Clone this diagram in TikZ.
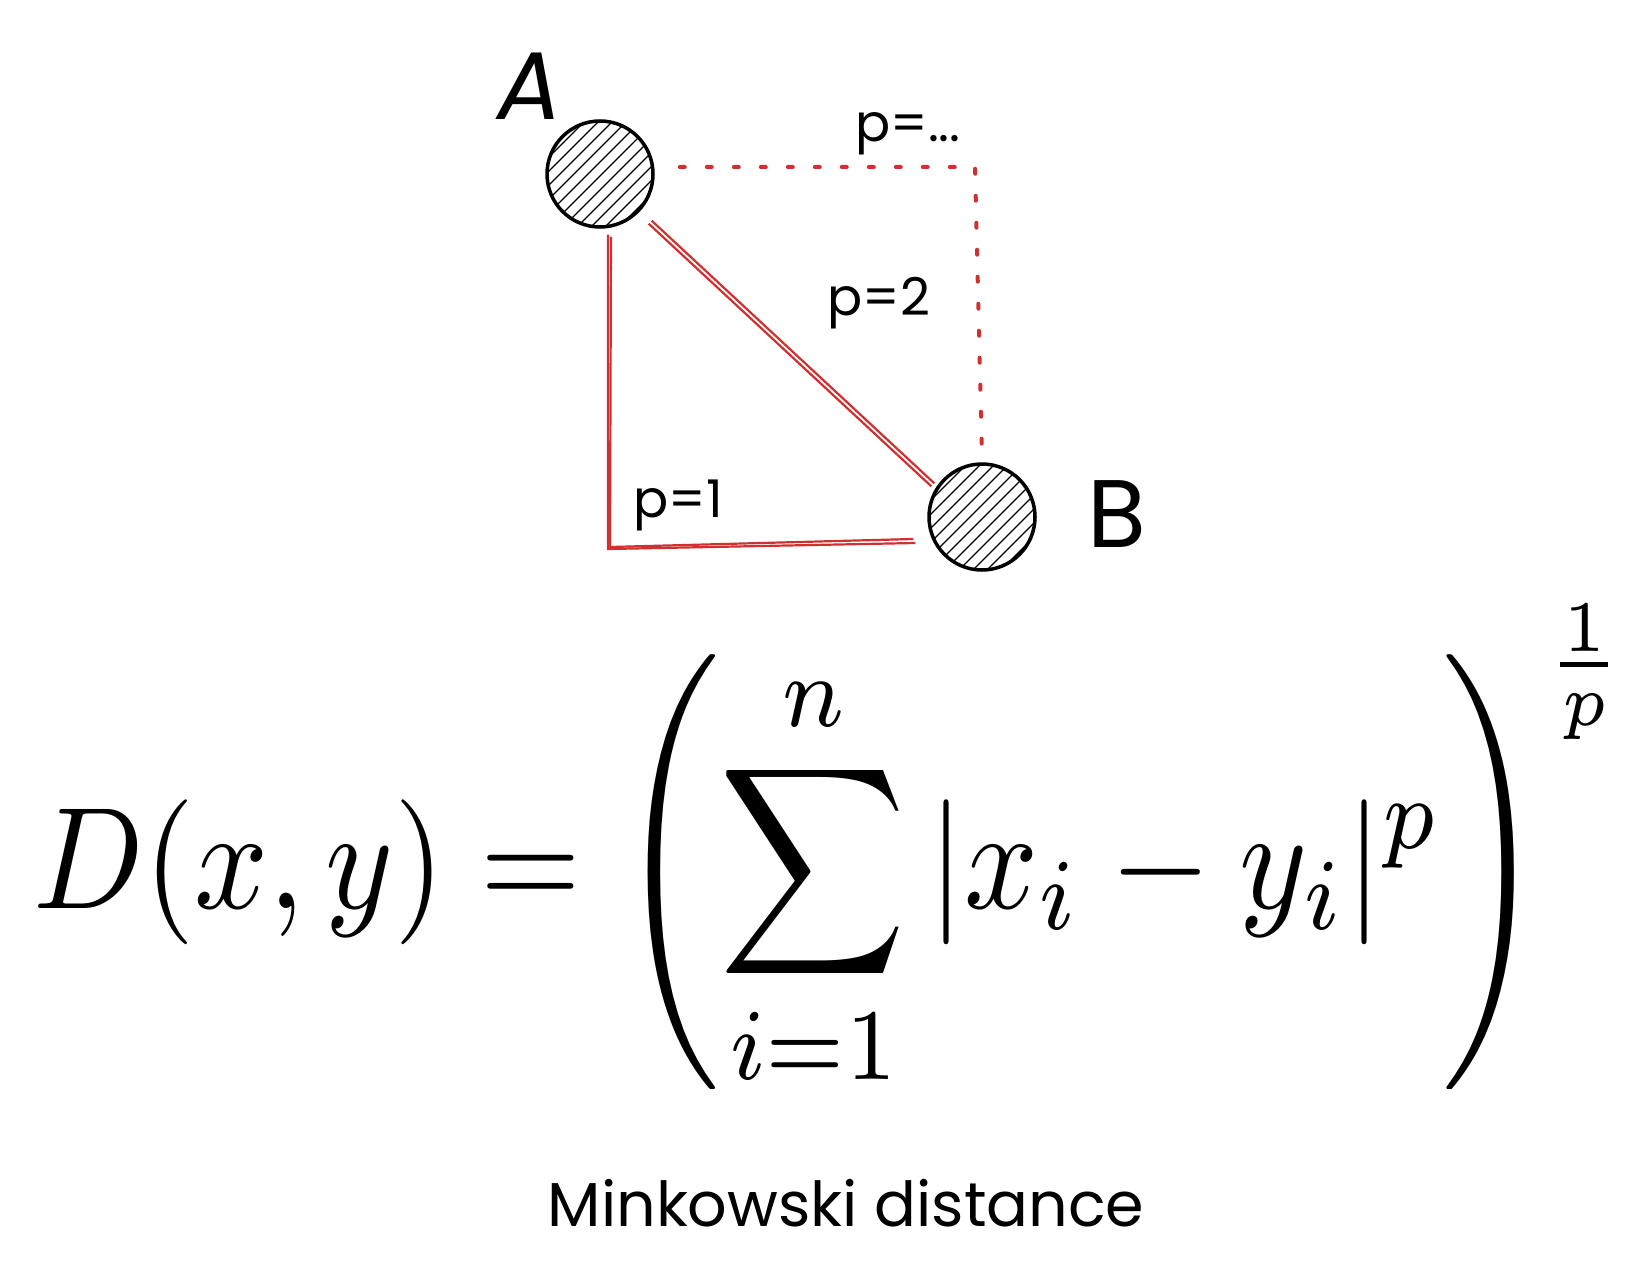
\documentclass[tikz,border=0pt]{standalone}
\usepackage{amsmath}
\usepackage{graphicx}
\usepackage{fontspec}
\newfontfamily\hand{Poppins}
\usetikzlibrary{calc}
\definecolor{lred}{RGB}{208,48,48}
\tikzset{
  ball/.style={circle, draw=black, line width=3.5pt, minimum size=106pt, inner sep=0pt,
    path picture={
      \begin{scope}[shift={(path picture bounding box.center)}]
        \foreach \d in {-48,-41,...,48}
          \draw[line width=1.3pt] (\d-70,\d+70) -- (\d+70,\d-70);
      \end{scope}}},
  redline/.style={draw=lred, line width=2.2pt},
  reddot/.style={draw=lred, line width=4pt, line cap=round, dash pattern=on 5pt off 22pt},
  lbl/.style={font=\hand\fontsize{52}{60}\selectfont, inner sep=0pt},
  big/.style={font=\hand\fontsize{96}{110}\selectfont, inner sep=0pt},
}
\begin{document}
\begin{tikzpicture}[x=1pt,y=-1pt]
\useasboundingbox (0,0) rectangle (1636,1276);
% nodes
\node[ball] (A) at (600,174) {};
\node[ball] (B) at (982,517) {};
\node[big] (LA) at (530,86) {\itshape A};
\node[big] (LB) at (1117,514) {B};
\node[lbl] (p1) at (678,505) {p=1};
\node[lbl] (p2) at (879,303) {p=2};
\node[lbl] (pn) at (908,134) {p=...};
\coordinate (C) at (608,549);
\coordinate (D) at (975,167);
% p=1 : Manhattan
\draw[redline] ($(A.south)+(8,6)$) -- (C) -- ($(B.west)+(-12,26)$);
\draw[redline] ($(A.south)+(11,8)$) -- ($(C)+(2,-2)$) -- ($(B.west)+(-14,22)$);
% p=2 : Euclid
\draw[redline] ($(A.-45)+(10,11)$) -- ($(B.135)+(-12,8)$);
\draw[redline] ($(A.-45)+(13,8)$) -- ($(B.135)+(-9,5)$);
% p=... : Chebyshev
\draw[reddot] ($(A.east)+(25,-7)$) -- (D) -- ($(B.north)+(0,-6)$);
% formula
\node[anchor=base west, inner sep=0pt] (F) at (33,908)
  {\scalebox{12.95}[14.5]{$\displaystyle D(x,y)=\left(\sum_{i=1}^{n}\,\lvert x_i-y_i\rvert^{p}\right)^{\frac{1}{p}}$}};
\node[font=\hand\fontsize{62}{70}\selectfont, inner sep=0pt] (T) at (846,1203) {Minkowski distance};
\end{tikzpicture}
\end{document}
